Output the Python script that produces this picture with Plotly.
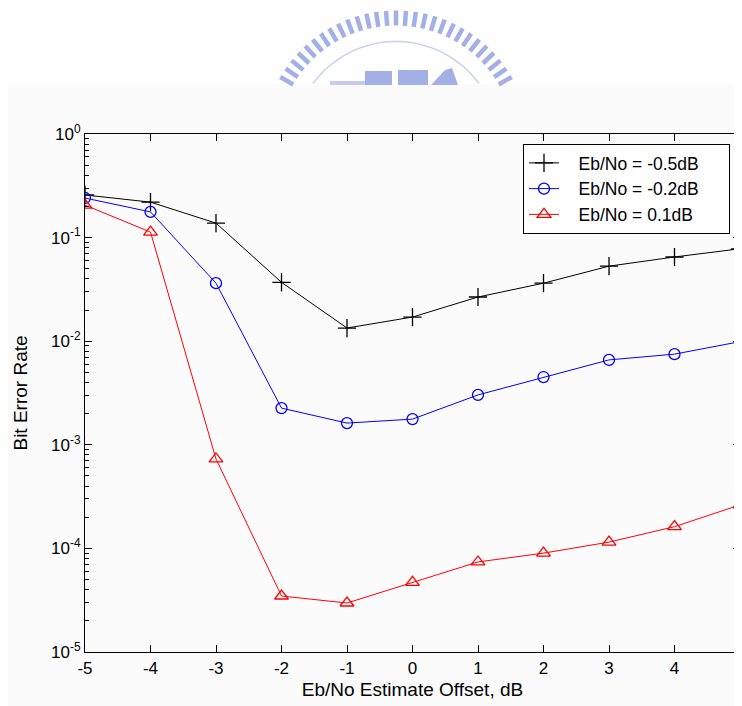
import math
import plotly.graph_objects as go

offsets = [-5, -4, -3, -2, -1, 0, 1, 2, 3, 4, 5]
x_ticktext = ["-5", "-4", "-3", "-2", "-1", "0", "1", "2", "3", "4", "5"]
ber_m05 = [0.258, 0.22, 0.138, 0.037, 0.0134, 0.0171, 0.0267, 0.0363, 0.053, 0.065, 0.078]
ber_m02 = [0.241, 0.177, 0.0363, 0.00226, 0.00162, 0.00177, 0.00303, 0.00451, 0.0066, 0.0075, 0.0099]
ber_p01 = [0.206, 0.113, 0.00073, 3.47e-5, 2.97e-5, 4.7e-5, 7.4e-5, 9.0e-5, 1.15e-4, 1.62e-4, 2.63e-4]
series_names = ["Eb/No = -0.5dB", "Eb/No = -0.2dB", "Eb/No = 0.1dB"]
y_tickvals = [1e-5, 1e-4, 1e-3, 1e-2, 1e-1, 1]
y_ticktext = ["10<sup>-5</sup>", "10<sup>-4</sup>", "10<sup>-3</sup>", "10<sup>-2</sup>", "10<sup>-1</sup>", "10<sup>0</sup>"]

# page layout (the html body adds an 8px margin, compensated here)
OFF = 8
PW, PH = 742, 706
W, H = PW - OFF, PH - OFF
L, R, T, B = 85, 740, 134, 652          # plot area in page pixels
LEAD = "\u00a0\u00a0\u00a0"
TRAIL = "\u00a0" * 5

fig = go.Figure()
fig.add_trace(go.Scatter(x=offsets, y=ber_m05, name=LEAD + series_names[0] + TRAIL, mode="lines+markers",
                         line=dict(color="black", width=1),
                         marker=dict(symbol="cross-thin-open", size=13, color="black",
                                     line=dict(color="black", width=1.3))))
fig.add_trace(go.Scatter(x=offsets, y=ber_m02, name=LEAD + series_names[1] + TRAIL, mode="lines+markers",
                         line=dict(color="#0000ff", width=1),
                         marker=dict(symbol="circle-open", size=11, color="#0000ff",
                                     line=dict(color="#0000ff", width=1.3))))
fig.add_trace(go.Scatter(x=offsets, y=ber_p01, name=LEAD + series_names[2] + TRAIL, mode="lines+markers",
                         line=dict(color="#ff0000", width=1),
                         marker=dict(symbol="triangle-up-open", size=12, color="#ff0000",
                                     line=dict(color="#ff0000", width=1.3))))

def px(x):
    return (x - L) / (R - L)
def py(y):
    return (B - y) / (B - T)

logo = "#a3b0e6"
shapes = []
shapes.append(dict(type="rect", xref="paper", yref="paper", layer="below",
                   x0=px(0), x1=px(PW + 10), y0=py(PH + 10), y1=py(85),
                   line=dict(width=0), fillcolor="#fbfbfb"))
cx, cy = 396, 144.5
n = 31
for i in range(n):
    ang = math.radians(26 + i * (128 / (n - 1)))
    r1, r2 = 119, 134
    x1, y1 = cx + r1 * math.cos(ang), cy - r1 * math.sin(ang)
    x2, y2 = cx + r2 * math.cos(ang), cy - r2 * math.sin(ang)
    if y2 > 85:
        continue
    y1c = min(y1, 85)
    shapes.append(dict(type="line", xref="paper", yref="paper",
                       x0=px(x1), y0=py(y1c), x1=px(x2), y1=py(y2),
                       line=dict(color=logo, width=4.5)))
pts = []
for k in range(61):
    ang = math.radians(20 + k * 140 / 60)
    pts.append((cx + 103 * math.cos(ang), cy - 103 * math.sin(ang)))
pts = [(a, b) for a, b in pts if b <= 85]
path = "M " + " L ".join(f"{px(a):.5f},{py(b):.5f}" for a, b in pts)
shapes.append(dict(type="path", xref="paper", yref="paper", path=path,
                   line=dict(color="#c9d0ee", width=1.5)))
shapes.append(dict(type="rect", xref="paper", yref="paper", x0=px(330), y0=py(85), x1=px(365), y1=py(81),
                   line=dict(width=0), fillcolor="#c3cbee"))
for (x0, y0, x1, y1) in [(365, 71, 392, 85), (398, 70, 428, 85)]:
    shapes.append(dict(type="rect", xref="paper", yref="paper",
                       x0=px(x0), y0=py(y1), x1=px(x1), y1=py(y0),
                       line=dict(width=0), fillcolor=logo))
tri = [(431, 85), (445, 70), (452, 68), (458, 85)]
shapes.append(dict(type="path", xref="paper", yref="paper",
                   path="M " + " L ".join(f"{px(a):.5f},{py(b):.5f}" for a, b in tri) + " Z",
                   line=dict(width=0), fillcolor=logo))

fig.update_layout(
    width=W, height=H,
    margin=dict(l=L - OFF, r=W - (R - OFF), t=T - OFF, b=H - (B - OFF), autoexpand=False),
    paper_bgcolor="white", plot_bgcolor="white",
    font=dict(family="Liberation Sans, Arial, sans-serif", size=17, color="black"),
    showlegend=True,
    legend=dict(x=px(730), y=py(144), xanchor="right", yanchor="top",
                bgcolor="white", bordercolor="black", borderwidth=1,
                font=dict(size=17.5), tracegroupgap=0),
    shapes=shapes,
)
fig.update_xaxes(range=[-5, 5], tickvals=offsets, ticktext=x_ticktext, ticks="inside", ticklen=7,
                 showline=True, linecolor="black", linewidth=1.2, mirror="ticks",
                 showgrid=False, zeroline=False, tickcolor="black", ticklabeloverflow="allow",
                 title=dict(text="Eb/No Estimate Offset, dB", standoff=6, font=dict(size=19)),
                 tickfont=dict(size=17), automargin=False)
fig.update_yaxes(type="log", range=[-5, 0], tickvals=y_tickvals, ticktext=y_ticktext,
                 ticks="inside", ticklen=7, tickcolor="black",
                 showline=True, linecolor="black", linewidth=1.2, mirror="ticks",
                 showgrid=False, zeroline=False,
                 minor=dict(ticks="inside", ticklen=4, tickcolor="black", dtick="D1", showgrid=False),
                 title=dict(text="Bit Error Rate", standoff=18, font=dict(size=19)),
                 tickfont=dict(size=17), automargin=False)

fig.write_html("out.html")
